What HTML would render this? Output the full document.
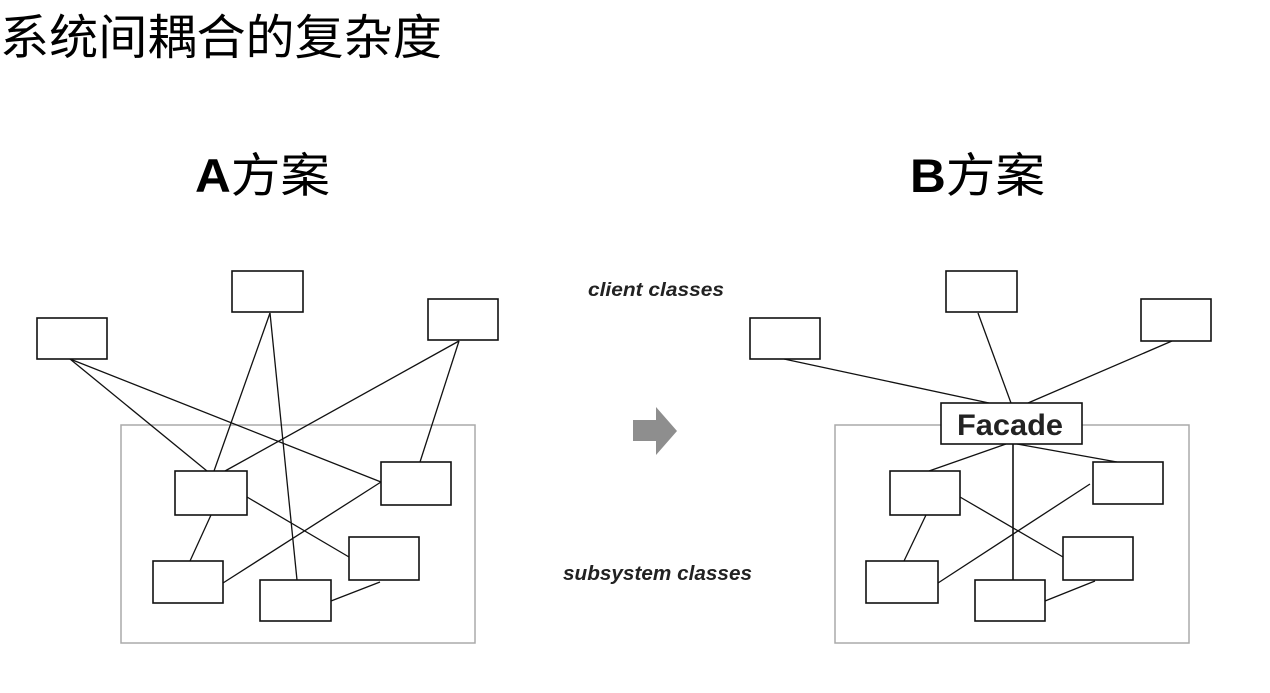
<!DOCTYPE html>
<html><head><meta charset="utf-8"><style>
body{margin:0;width:1270px;height:693px;background:#fff;overflow:hidden;}
</style></head><body>
<svg width="1270" height="693" xmlns="http://www.w3.org/2000/svg" style="position:absolute;left:0;top:0">
<text x="0" y="54" textLength="442" lengthAdjust="spacingAndGlyphs" font-family="Liberation Sans, Noto Sans CJK SC, sans-serif" font-size="48" fill="#000">系统间耦合的复杂度</text>
<text x="195" y="192" textLength="135" lengthAdjust="spacingAndGlyphs" font-family="Liberation Sans, Noto Sans CJK SC, sans-serif" font-size="47" font-weight="bold" fill="#000">A<tspan font-weight="normal">方案</tspan></text>
<text x="910" y="192" textLength="135" lengthAdjust="spacingAndGlyphs" font-family="Liberation Sans, Noto Sans CJK SC, sans-serif" font-size="47" font-weight="bold" fill="#000">B<tspan font-weight="normal">方案</tspan></text>
<text x="588" y="296" textLength="136" lengthAdjust="spacingAndGlyphs" font-family="Liberation Sans, sans-serif" font-size="19" font-weight="bold" font-style="italic" fill="#222">client classes</text>
<text x="563" y="580" textLength="189" lengthAdjust="spacingAndGlyphs" font-family="Liberation Sans, sans-serif" font-size="20" font-weight="bold" font-style="italic" fill="#222">subsystem classes</text>
<path d="M633 420 H656 V407 L677 431 L656 455 V441 H633 Z" fill="#8e8e8e"/>
<g fill="none" stroke="#aaa" stroke-width="1.5">
<rect x="121" y="425" width="354" height="218"/>
<rect x="835" y="425" width="354" height="218"/>
</g>
<g stroke="#111" stroke-width="1.3" fill="none">
<line x1="70" y1="359" x2="207" y2="471"/>
<line x1="70" y1="359" x2="381" y2="482"/>
<line x1="270" y1="313" x2="214" y2="471"/>
<line x1="270" y1="313" x2="297" y2="580"/>
<line x1="459" y1="341" x2="225" y2="471"/>
<line x1="459" y1="341" x2="420" y2="462"/>
<line x1="247" y1="497" x2="349" y2="557"/>
<line x1="211" y1="515" x2="190" y2="561"/>
<line x1="381" y1="482" x2="223" y2="583"/>
<line x1="380" y1="582" x2="331" y2="601"/>
<line x1="784" y1="359" x2="989" y2="403"/>
<line x1="978" y1="313" x2="1011" y2="403"/>
<line x1="1172" y1="341" x2="1028" y2="403"/>
<line x1="1006" y1="444" x2="929" y2="471"/>
<line x1="1017" y1="444" x2="1117" y2="462"/>
<line x1="1013" y1="444" x2="1013" y2="580" stroke-width="1.6"/>
<line x1="960" y1="497" x2="1063" y2="557"/>
<line x1="926" y1="515" x2="904" y2="561"/>
<line x1="1090" y1="484" x2="938" y2="583"/>
<line x1="1095" y1="581" x2="1045" y2="601"/>
</g>
<g fill="#fff" stroke="#111" stroke-width="1.6">
<rect x="37" y="318" width="70" height="41"/>
<rect x="232" y="271" width="71" height="41"/>
<rect x="428" y="299" width="70" height="41"/>
<rect x="175" y="471" width="72" height="44"/>
<rect x="381" y="462" width="70" height="43"/>
<rect x="349" y="537" width="70" height="43"/>
<rect x="153" y="561" width="70" height="42"/>
<rect x="260" y="580" width="71" height="41"/>
<rect x="750" y="318" width="70" height="41"/>
<rect x="946" y="271" width="71" height="41"/>
<rect x="1141" y="299" width="70" height="42"/>
<rect x="941" y="403" width="141" height="41"/>
<rect x="890" y="471" width="70" height="44"/>
<rect x="1093" y="462" width="70" height="42"/>
<rect x="1063" y="537" width="70" height="43"/>
<rect x="866" y="561" width="72" height="42"/>
<rect x="975" y="580" width="70" height="41"/>
</g>
<text x="957" y="435" textLength="106" lengthAdjust="spacingAndGlyphs" font-family="Liberation Sans, sans-serif" font-size="30" font-weight="bold" fill="#222">Facade</text>
</svg>
</body></html>
